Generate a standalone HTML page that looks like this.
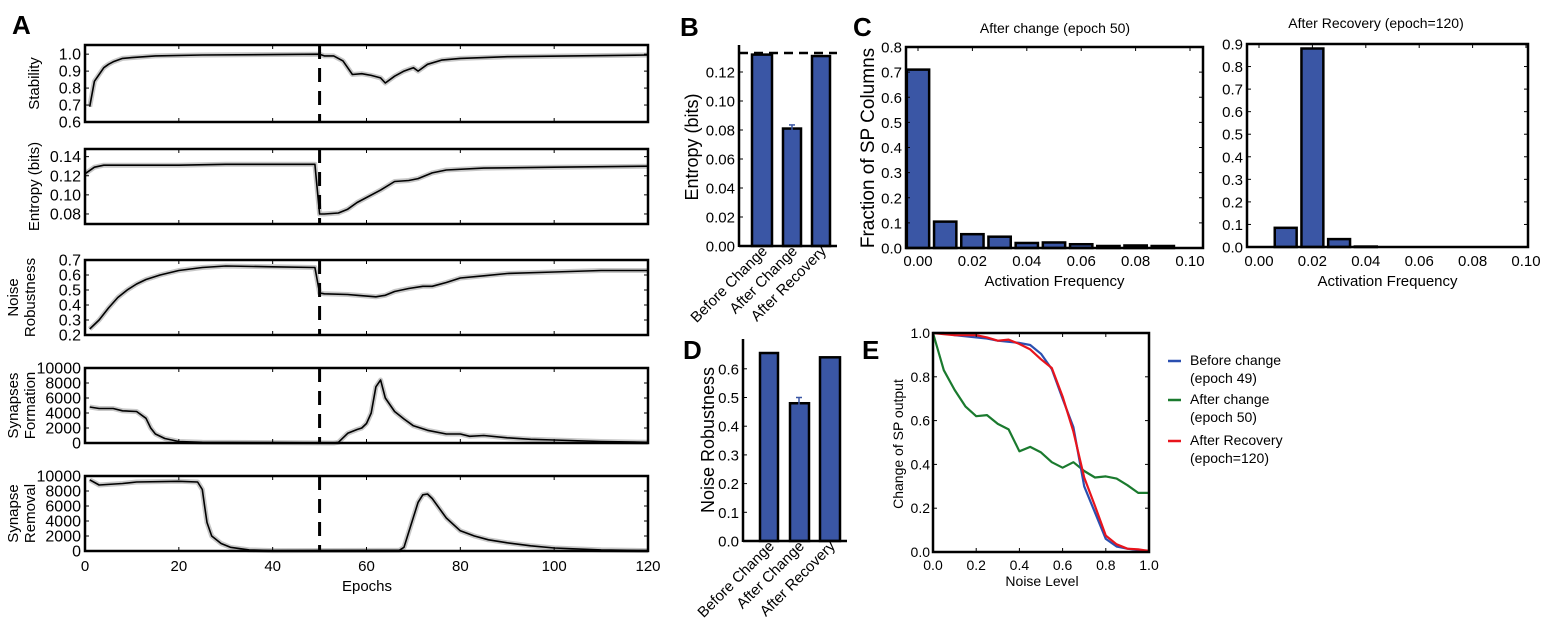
<!DOCTYPE html>
<html><head><meta charset="utf-8"><style>
html,body{margin:0;padding:0;background:#fff;}
svg{display:block;font-family:"Liberation Sans",Arial,sans-serif;}
</style></head><body>
<svg id="s" width="1547" height="628" viewBox="0 0 1547 628" xmlns="http://www.w3.org/2000/svg"></svg>
<script>
const S=document.getElementById('s');let h='';
function add(x){h+=x;}
function txt(x,y,t,o={}){const sz=o.size||14,anc=o.anchor||'middle',w=o.weight||'normal',rot=o.rot?` transform="rotate(${o.rot} ${x} ${y})"`:'';add(`<text x="${x}" y="${y}" font-size="${sz}" text-anchor="${anc}" font-weight="${w}"${rot}>${t}</text>`);}
function line(x1,y1,x2,y2,c='#000',w=1,da=''){add(`<line x1="${x1}" y1="${y1}" x2="${x2}" y2="${y2}" stroke="${c}" stroke-width="${w}" ${da?`stroke-dasharray="${da}"`:''}/>`);}
function rect(x,y,w,hh,f,s,sw){add(`<rect x="${x}" y="${y}" width="${w}" height="${hh}" fill="${f}" stroke="${s}" stroke-width="${sw}"/>`);}
function poly(pts,c,w){add(`<polyline points="${pts.map(p=>p[0].toFixed(1)+','+p[1].toFixed(1)).join(' ')}" fill="none" stroke="${c}" stroke-width="${w}" stroke-linejoin="round"/>`);}
txt(12,34,'A',{size:26,anchor:'start',weight:'bold'});
txt(680,36,'B',{size:26,anchor:'start',weight:'bold'});
txt(853,36,'C',{size:26,anchor:'start',weight:'bold'});
txt(683,359,'D',{size:26,anchor:'start',weight:'bold'});
txt(862,359,'E',{size:26,anchor:'start',weight:'bold'});
const AX0=85,AX1=648;const ex=e=>AX0+e*(AX1-AX0)/120;
const panels=[
 {t:45,b:122,lo:0.6,hi:1.054,ticks:[0.6,0.7,0.8,0.9,1.0],fmt:v=>v.toFixed(1),lab:['Stability'],
  d:[[1,0.69],[2,0.84],[3,0.88],[4,0.92],[5,0.94],[6,0.955],[8,0.975],[10,0.98],[15,0.99],[25,0.995],[50,1.0],[51,0.99],[53,0.99],[55,0.96],[57,0.88],[59,0.885],[61,0.875],[63,0.86],[64,0.83],[66,0.87],[68,0.9],[69,0.91],[70,0.92],[71,0.9],[73,0.94],[76,0.965],[80,0.975],[90,0.985],[120,0.995]]},
 {t:149,b:224,lo:0.0695,hi:0.148,ticks:[0.08,0.10,0.12,0.14],fmt:v=>v.toFixed(2),lab:['Entropy (bits)'],
  d:[[0,0.122],[2,0.129],[4,0.131],[20,0.131],[30,0.132],[49,0.132],[50,0.08],[51,0.08],[54,0.081],[56,0.085],[58,0.092],[63,0.105],[66,0.114],[69,0.115],[71,0.117],[74,0.123],[77,0.126],[85,0.128],[100,0.129],[120,0.13]]},
 {t:260,b:335,lo:0.2,hi:0.7,ticks:[0.2,0.3,0.4,0.5,0.6,0.7],fmt:v=>v.toFixed(1),lab:['Noise','Robustness'],
  d:[[1,0.24],[3,0.3],[5,0.38],[7,0.45],[9,0.5],[11,0.54],[13,0.57],[16,0.6],[20,0.63],[25,0.65],[30,0.66],[40,0.655],[49,0.65],[50,0.48],[51,0.475],[56,0.47],[58,0.465],[62,0.455],[64,0.465],[66,0.49],[69,0.51],[72,0.525],[74,0.525],[77,0.55],[80,0.58],[85,0.595],[90,0.61],[100,0.62],[110,0.63],[120,0.63]]},
 {t:368,b:443,lo:0,hi:10000,ticks:[0,2000,4000,6000,8000,10000],fmt:v=>String(v),lab:['Synapses','Formation'],
  d:[[1,4800],[3,4600],[6,4600],[8,4300],[11,4200],[13,3300],[14,2000],[15,1200],[17,600],[20,200],[25,100],[40,50],[53,0],[54,100],[56,1300],[58,1800],[59,2000],[60,2600],[61,4000],[62,7500],[63,8400],[64,6000],[66,4200],[68,3200],[70,2300],[73,1700],[77,1200],[80,1200],[82,900],[85,1000],[90,700],[95,500],[100,400],[110,200],[120,100]]},
 {t:476,b:551,lo:0,hi:10000,ticks:[0,2000,4000,6000,8000,10000],fmt:v=>String(v),lab:['Synapse','Removal'],
  d:[[1,9500],[3,8800],[8,9000],[11,9200],[20,9300],[24,9200],[25,8200],[25.5,6000],[26,3800],[27,2000],[29,1000],[31,500],[35,150],[40,50],[67,100],[68,500],[70,4500],[71,6500],[72,7500],[73,7600],[74,7000],[77,4400],[80,2700],[83,2000],[86,1500],[90,1100],[95,700],[100,400],[110,150],[120,50]]}
];
panels.forEach((p,i)=>{
 const vy=v=>p.b-(v-p.lo)/(p.hi-p.lo)*(p.b-p.t);
 const pts=p.d.map(q=>[ex(q[0]),vy(q[1])]);
 poly(pts,'#c8c8c8',5);poly(pts,'#000',1.6);
 line(ex(50),p.t,ex(50),p.b,'#000',3,'14,9');
 rect(AX0,p.t,AX1-AX0,p.b-p.t,'none','#000',2.5);
 p.ticks.forEach(v=>{const y=vy(v);line(AX0,y,AX0+4,y);line(AX1,y,AX1-4,y);txt(81,y+5.5,p.fmt(v),{size:16,anchor:'end'});});
 [20,40,60,80,100].forEach(e=>{line(ex(e),p.t,ex(e),p.t+4);line(ex(e),p.b,ex(e),p.b-4);});
 const cy=(p.t+p.b)/2;
 if(p.lab.length==1){txt(39,cy,p.lab[0],{size:15,rot:-90});}
 else{txt(18,cy,p.lab[0],{size:15,rot:-90});txt(35,cy,p.lab[1],{size:15,rot:-90});}
});
[0,20,40,60,80,100,120].forEach(e=>txt(ex(e),571,String(e),{size:15}));
txt(367,591,'Epochs',{size:15});
(function(){const L=739,R=837,T=45,B=246;const vy=v=>B-v/0.02*29;
 [[752,772,0.132],[783,801,0.081],[812,830,0.131]].forEach(b=>rect(b[0],vy(b[2]),b[1]-b[0],B-vy(b[2]),'#3a56a5','#000',2.5));
 line(792,vy(0.0835),792,vy(0.0785),'#3a56a5',1.5);line(789,vy(0.0835),795,vy(0.0835),'#3a56a5',1.5);
 line(L,53,R,53,'#000',2.5,'9,6');
 line(L,T,L,B+1,'#000',2.5);line(L,B,R,B,'#000',2.5);
 [0,0.02,0.04,0.06,0.08,0.10,0.12].forEach(v=>{line(L,vy(v),L+4,vy(v));txt(735,vy(v)+5.5,v.toFixed(2),{size:15,anchor:'end'});});
 txt(698,147,'Entropy (bits)',{size:18,rot:-90});
 [['Before Change',762],['After Change',792],['After Recovery',821]].forEach(l=>txt(l[1]+6,252,l[0],{size:15,anchor:'end',rot:-45}));
})();
(function(){const L=743,R=847,T=339,B=541;const vy=v=>B-v*287;
 [[760,778,0.655],[790,809,0.48],[820,840,0.64]].forEach(b=>rect(b[0],vy(b[2]),b[1]-b[0],B-vy(b[2]),'#3a56a5','#000',2.5));
 line(799,vy(0.5),799,vy(0.47),'#3a56a5',1.5);line(796,vy(0.5),802,vy(0.5),'#3a56a5',1.5);
 line(L,T,L,B+1,'#000',2.5);line(L,B,R,B,'#000',2.5);
 [0,0.1,0.2,0.3,0.4,0.5,0.6].forEach(v=>{line(L,vy(v),L+4,vy(v));txt(739,vy(v)+5.5,v.toFixed(1),{size:15,anchor:'end'});});
 txt(714,440,'Noise Robustness',{size:18,rot:-90});
 [['Before Change',769],['After Change',799],['After Recovery',830]].forEach(l=>txt(l[1]+6,547,l[0],{size:15,anchor:'end',rot:-45}));
})();
function hist(L,R,T,B,x0,xpx,ymax,yt,bars,title,ttx,tty){
 const vy=v=>B-v/ymax*(B-T);const vx=v=>x0+v*xpx;
 bars.forEach(b=>{const w=0.0082*xpx;rect(vx(b[0])-w/2,vy(b[1]),w,B-vy(b[1]),'#3a56a5','#000',2.5);});
 rect(L,T,R-L,B-T,'none','#000',2.5);
 yt.forEach(v=>{line(L,vy(v),L+4,vy(v));line(R,vy(v),R-4,vy(v));txt(L-4,vy(v)+5.5,v.toFixed(1),{size:15,anchor:'end'});});
 [0,0.02,0.04,0.06,0.08,0.10].forEach(v=>{line(vx(v),T,vx(v),T+4);txt(vx(v),266,v.toFixed(2),{size:15});});
 txt((L+R)/2,286,'Activation Frequency',{size:15});
 txt(ttx,tty,title,{size:14});
}
hist(906,1203,47,248,918,2720,0.8,[0,0.1,0.2,0.3,0.4,0.5,0.6,0.7,0.8],
 [[0,0.71],[0.01,0.105],[0.02,0.055],[0.03,0.045],[0.04,0.02],[0.05,0.022],[0.06,0.015],[0.07,0.008],[0.08,0.01],[0.09,0.008]],'After change (epoch 50)',1055,33);
hist(1247,1528,44,247,1259,2670,0.9,[0,0.1,0.2,0.3,0.4,0.5,0.6,0.7,0.8,0.9],
 [[0.01,0.085],[0.02,0.88],[0.03,0.035],[0.04,0.002]],'After Recovery (epoch=120)',1376,28);
txt(874,148,'Fraction of SP Columns',{size:19,rot:-90});
(function(){const L=933,R=1149,T=333,B=552;const vx=v=>L+v*(R-L),vy=v=>B-v*(B-T);
 const bl=[1,1,0.99,0.985,0.98,0.975,0.965,0.96,0.955,0.945,0.905,0.835,0.7,0.57,0.3,0.18,0.06,0.025,0.015,0.008,0.005];
 const rd=[1,0.995,0.99,0.99,0.99,0.98,0.965,0.97,0.95,0.925,0.88,0.84,0.71,0.55,0.34,0.21,0.075,0.035,0.015,0.012,0.005];
 const gr=[1,0.83,0.74,0.665,0.62,0.625,0.585,0.56,0.46,0.48,0.455,0.41,0.385,0.41,0.37,0.34,0.345,0.335,0.305,0.27,0.27];
 const P=a=>a.map((v,i)=>[vx(i*0.05),vy(v)]);
 poly(P(gr),'#1a7a2e',2.2);poly(P(bl),'#2a4fb0',2.2);poly(P(rd),'#e8141c',2.2);
 rect(L,T,R-L,B-T,'none','#000',2.5);
 [0,0.2,0.4,0.6,0.8,1.0].forEach(v=>{line(L,vy(v),L+4,vy(v));line(R,vy(v),R-4,vy(v));line(vx(v),T,vx(v),T+4);line(vx(v),B,vx(v),B-4);
  txt(L-3,vy(v)+5,v.toFixed(1),{size:14,anchor:'end'});txt(vx(v),570,v.toFixed(1),{size:14});});
 txt(1042,586,'Noise Level',{size:14});
 txt(903,444,'Change of SP output',{size:14,rot:-90});
 [['#2a4fb0','Before change','(epoch 49)',360],['#1a7a2e','After change','(epoch 50)',399],['#e8141c','After Recovery','(epoch=120)',440]].forEach(l=>{
  line(1168,l[3]+1,1181,l[3]+1,l[0],2.5);txt(1190,l[3]+5,l[1],{size:14,anchor:'start'});txt(1190,l[3]+23,l[2],{size:14,anchor:'start'});});
})();
S.innerHTML=h;
</script>
</body></html>
